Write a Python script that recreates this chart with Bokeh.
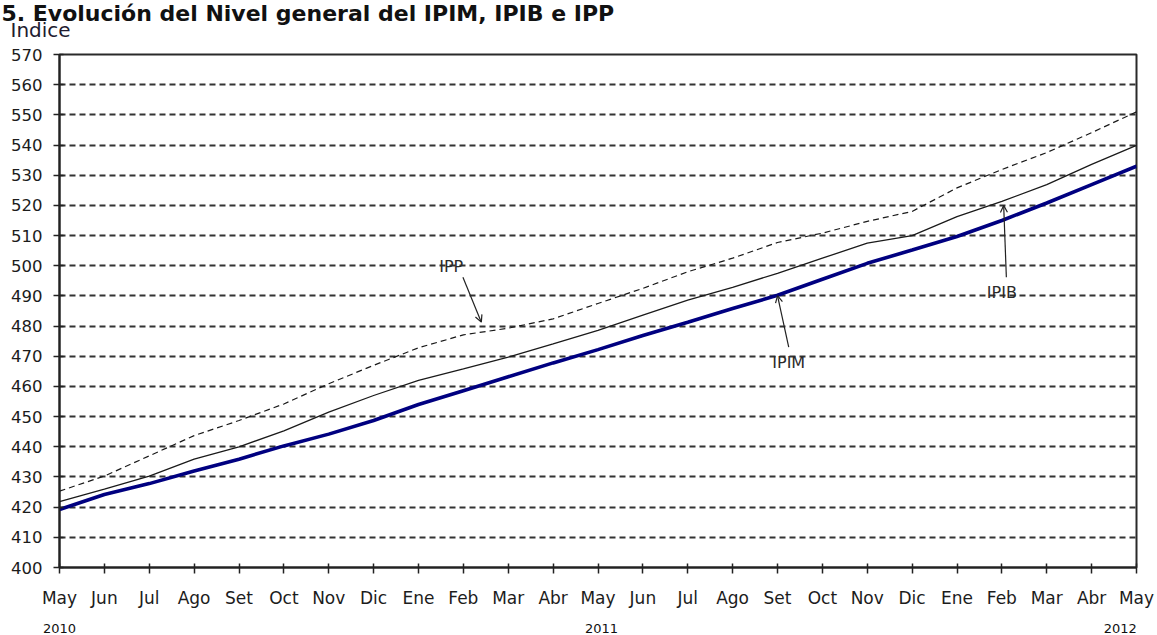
from bokeh.plotting import figure
from bokeh.models import (Range1d, FixedTicker, Label, Arrow, OpenHead, ColumnDataSource,
                          Title, LinearAxis)
from bokeh.embed import file_html
from bokeh.resources import INLINE

months = ["May", "Jun", "Jul", "Ago", "Set", "Oct", "Nov", "Dic", "Ene", "Feb", "Mar", "Abr",
          "May", "Jun", "Jul", "Ago", "Set", "Oct", "Nov", "Dic", "Ene", "Feb", "Mar", "Abr", "May"]
years = ["2010", "2011", "2012"]
year_idx = [0, 12, 24]
ipim = [419.2, 424.2, 427.8, 432.0, 435.9, 440.3, 444.2, 448.7, 454.0, 458.6, 463.2, 467.8,
        472.2, 476.9, 481.3, 485.8, 490.2, 495.5, 500.8, 505.2, 509.7, 515.0, 520.8, 526.9, 533.0]
ipib = [421.8, 426.0, 430.3, 435.9, 440.0, 445.3, 451.5, 457.0, 462.0, 465.8, 469.7, 474.1,
        478.6, 483.6, 488.6, 492.8, 497.5, 502.5, 507.5, 510.0, 516.3, 521.3, 526.9, 533.6, 539.9]
ipp = [425.3, 430.3, 437.0, 443.7, 448.7, 454.2, 460.9, 467.0, 472.8, 477.1, 479.3, 482.4,
       487.5, 492.5, 498.0, 502.5, 507.7, 510.8, 514.7, 518.0, 525.8, 531.9, 537.5, 544.1, 551.0]
y_ticks = list(range(400, 571, 10))

FONT = "DejaVu Sans"
TXT = "#1c1c1c"

x = list(range(len(months)))
src = ColumnDataSource(dict(x=x, ipim=ipim, ipib=ipib, ipp=ipp))

p = figure(width=1157, height=635, x_range=Range1d(0, 24), y_range=Range1d(400, 570),
           output_backend="svg", toolbar_location=None, title=None,
           min_border_left=59, min_border_right=21, min_border_top=54, min_border_bottom=68)
p.background_fill_color = "white"
p.border_fill_color = "white"
p.outline_line_color = "#2a2a2a"
p.outline_line_width = 2

# grid
p.xgrid.grid_line_color = None
p.ygrid.ticker = FixedTicker(ticks=y_ticks)
p.ygrid.grid_line_color = "#333333"
p.ygrid.grid_line_width = 2
p.ygrid.grid_line_dash = "6 4"

# axes
p.yaxis.ticker = FixedTicker(ticks=y_ticks)
p.xaxis.ticker = FixedTicker(ticks=x)
p.xaxis.major_label_overrides = {i: m for i, m in enumerate(months)}
for ax in (p.xaxis[0], p.yaxis[0]):
    ax.axis_line_color = "#222222"
    ax.axis_line_width = 2
    ax.major_tick_line_color = "#222222"
    ax.major_tick_line_width = 1.5
    ax.major_tick_in = 4
    ax.major_tick_out = 6
    ax.minor_tick_line_color = None
    ax.major_label_text_font = FONT
    ax.major_label_text_color = TXT
p.yaxis.major_label_text_font_size = "16.5px"
p.yaxis.major_label_standoff = 11
p.xaxis.major_label_text_font_size = "17px"
p.xaxis.major_label_standoff = 14

# year row under the month labels (label anchors nudged like the original layout)
year_shift = [0.0, 0.08, -0.36]
year_ticks = [i + s for i, s in zip(year_idx, year_shift)]
year_axis = LinearAxis(ticker=FixedTicker(ticks=year_ticks),
                       major_label_overrides={t: y for t, y in zip(year_ticks, years)},
                       axis_line_color=None, major_tick_line_color=None,
                       minor_tick_line_color=None, major_tick_in=0, major_tick_out=0,
                       major_label_standoff=13, major_label_text_font=FONT,
                       major_label_text_font_size="13px", major_label_text_color="#111111")
p.add_layout(year_axis, "below")

# series
p.line("x", "ipp", source=src, line_color="#1a1a1a", line_width=1.2, line_dash="6 4")
p.line("x", "ipib", source=src, line_color="#1a1a1a", line_width=1.3)
p.line("x", "ipim", source=src, line_color="#000080", line_width=3.6)

# header: spacer (next to frame), "Indice", main title (top)
spacer = Title(text=" ", text_font=FONT, text_font_size="10px", standoff=5.8,
               align="left", vertical_align="top")
indice = Title(text="Indice", text_font=FONT, text_font_size="20px", text_font_style="normal",
               text_color="#221c30", standoff=-18.3, align="left", vertical_align="top",
               offset=-49)
main_title = Title(text="5. Evolución del Nivel general del IPIM, IPIB e IPP", text_font=FONT,
                   text_font_size="22px", text_font_style="bold", text_color="#111111",
                   standoff=0, align="left", vertical_align="top", offset=-58)
p.add_layout(spacer, "above")
p.add_layout(indice, "above")
p.add_layout(main_title, "above")

# series annotations
ann = [("IPP", 8.73, 499.75, 8.99, 496.2, 9.40, 481.3),
       ("IPIM", 16.25, 467.9, 16.25, 473.0, 16.0, 490.1),
       ("IPIB", 21.0, 491.1, 21.1, 496.2, 21.04, 520.0)]
for name, lx, ly, xs, ys, xe, ye in ann:
    p.add_layout(Label(x=lx, y=ly, text=name, text_font=FONT, text_font_size="16px",
                       text_color="#2a2a2a", text_align="center", text_baseline="middle"))
    p.add_layout(Arrow(x_start=xs, y_start=ys, x_end=xe, y_end=ye, line_color="#222222",
                       line_width=1.2,
                       end=OpenHead(size=7, line_width=1.2, line_color="#222222")))

open("out.html", "w").write(file_html(p, INLINE))
